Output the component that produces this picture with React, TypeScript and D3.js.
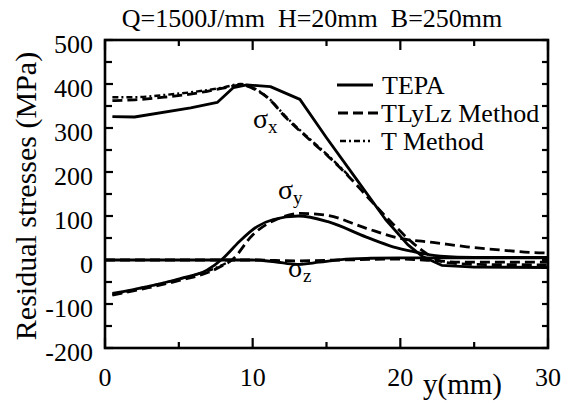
import React from 'react';
import * as d3 from 'd3';

// chart values
const titleText = 'Q=1500J/mm  H=20mm  B=250mm';
const xTicks = [0, 10, 20, 30];
const xMinorTicks = [5, 15, 25];
const yTicks = [500, 400, 300, 200, 100, 0, -100, -200];
const yMinorTicks = [450, 350, 250, 150, 50, -50, -150];

// sigma x
const tepaSxX = [0.5, 2, 5.8, 7.6, 8.7, 9.6, 11.2, 13.2, 15, 17, 19, 20.5, 21.5, 22.8, 25, 30];
const tepaSxY = [326, 325, 346, 358, 392, 398, 394, 365, 278, 185, 92, 35, 8, -12, -16, -17];
const tlSxX = [0.5, 2, 4, 6, 8.2, 9.3, 10, 10.9, 12.3, 13.9, 15.1, 16.5, 18, 19.5, 20.8, 22, 23, 25, 30];
const tlSxY = [362, 364, 370, 378, 392, 398, 390, 372, 322, 272, 236, 190, 135, 82, 40, 10, -5, -10, -11];
const tSxX = [0.5, 2, 4, 6, 8, 9.2, 10, 11, 12.3, 13.9, 15.1, 16.5];
const tSxY = [370, 370, 375, 382, 392, 400, 392, 370, 324, 274, 238, 192];

// sigma y
const tepaSyX = [0.5, 2.8, 5.1, 6.9, 8, 9.1, 10.3, 11.4, 13.1, 15.1, 17.7, 19.5, 20.9, 22.7, 25, 30];
const tepaSyY = [-76, -61, -42, -23, 4, 42, 76, 92, 100, 87, 52, 30, 19, 9, 6, 6];
const tlSyX = [0.5, 2.8, 5.1, 7, 8, 8.6, 10, 11.8, 13.2, 15.1, 17.7, 20, 22.2, 24.5, 26.7, 29, 30];
const tlSyY = [-80, -64, -46, -28, -12, 0, 57, 95, 106, 101, 72, 49, 40, 30, 23, 17, 16];
const tSyX = [0.5, 2, 4, 6, 7.5, 8.5];
const tSyY = [-79, -67, -52, -35, -18, -2];

// sigma z
const tepaSzX = [0, 10, 11.5, 13, 14.5, 16, 18, 20, 22, 25, 30];
const tepaSzY = [0, 0, -4, -10, -5, 1, 4, 5, 5, 5, 5];
const tlSzX = [0, 10, 13, 16, 20, 22.5, 24, 30];
const tlSzY = [0, 0, -2, 0, 2, -2, -5, -5];

const legendLabels = ['TEPA', 'TLyLz Method', 'T Method'];

const font = '"Liberation Serif"';

const zip = (xs: number[], ys: number[]) => xs.map((x, i) => [x, ys[i]] as [number, number]);

export default function App() {
  const W = 578, H = 406;
  const left = 105, right = 548, top = 40, bottom = 348;

  const x = d3.scaleLinear().domain([0, 30]).range([left, right]);
  const y = d3.scaleLinear().domain([-200, 500]).range([bottom, top]);

  const smooth = d3.line<[number, number]>().x(d => x(d[0])).y(d => y(d[1])).curve(d3.curveMonotoneX);
  const straight = d3.line<[number, number]>().x(d => x(d[0])).y(d => y(d[1]));

  const solid = { stroke: '#000', strokeWidth: 2.8, fill: 'none' };
  const dashed = { ...solid, strokeDasharray: '10 5' };
  const dashDot = { ...solid, strokeWidth: 2.4, strokeDasharray: '6 3 2 3' };

  const series = [
    { d: straight(zip(tepaSxX, tepaSxY)), st: solid },
    { d: smooth(zip(tlSxX, tlSxY)), st: dashed },
    { d: smooth(zip(tSxX, tSxY)), st: dashDot },
    { d: smooth(zip(tepaSyX, tepaSyY)), st: solid },
    { d: smooth(zip(tlSyX, tlSyY)), st: dashed },
    { d: smooth(zip(tSyX, tSyY)), st: dashDot },
    { d: smooth(zip(tepaSzX, tepaSzY)), st: solid },
    { d: smooth(zip(tlSzX, tlSzY)), st: dashed },
  ];

  const legendStyles = [solid, dashed, dashDot];
  const legendY = [94, 122, 150];
  const legendX0 = [337, 338, 340];
  const legendX1 = [373, 380, 370];

  const txt = { fontFamily: font, fill: '#000' };

  return (
    <svg width={W} height={H} style={{ position: 'fixed', left: 0, top: 0, background: '#fff' }}>
      <rect x={0} y={0} width={W} height={H} fill="#fff" />

      <text x={312} y={27} fontSize={26} textAnchor="middle" style={{ ...txt, whiteSpace: 'pre' }}>{titleText}</text>

      {/* frame */}
      <rect x={left} y={top} width={right - left} height={bottom - top} fill="none" stroke="#000" strokeWidth={2.6} />

      {/* x ticks, inward on bottom and top */}
      {xTicks.map(t => (
        <g key={'xt' + t}>
          <line x1={x(t)} x2={x(t)} y1={bottom} y2={bottom - 10} stroke="#000" strokeWidth={2.2} />
          <line x1={x(t)} x2={x(t)} y1={top} y2={top + 10} stroke="#000" strokeWidth={2.2} />
          <text x={x(t)} y={386} fontSize={26} textAnchor="middle" style={txt}>{t}</text>
        </g>
      ))}
      {xMinorTicks.map(t => (
        <g key={'xm' + t}>
          <line x1={x(t)} x2={x(t)} y1={bottom} y2={bottom - 6} stroke="#000" strokeWidth={2.2} />
          <line x1={x(t)} x2={x(t)} y1={top} y2={top + 6} stroke="#000" strokeWidth={2.2} />
        </g>
      ))}

      {/* y ticks, inward on left and right */}
      {yTicks.map(t => (
        <g key={'yt' + t}>
          <line x1={left} x2={left + 8} y1={y(t)} y2={y(t)} stroke="#000" strokeWidth={2.2} />
          <line x1={right} x2={right - 6} y1={y(t)} y2={y(t)} stroke="#000" strokeWidth={2.2} />
          <text x={93} y={y(t) + 12.5} fontSize={26} textAnchor="end" style={txt}>{t < 0 ? '-' + Math.abs(t) : t}</text>
        </g>
      ))}
      {yMinorTicks.map(t => (
        <g key={'ym' + t}>
          <line x1={left} x2={left + 7} y1={y(t)} y2={y(t)} stroke="#000" strokeWidth={2.2} />
          <line x1={right} x2={right - 6} y1={y(t)} y2={y(t)} stroke="#000" strokeWidth={2.2} />
        </g>
      ))}

      <text transform={`translate(36, ${(top + bottom) / 2 + 2}) rotate(-90)`} fontSize={30} textAnchor="middle" style={txt}>
        Residual stresses (MPa)
      </text>
      <text x={423} y={394} fontSize={29} style={txt}>y(mm)</text>

      {series.map((s, i) => (
        <path key={i} d={s.d || ''} {...s.st} strokeLinejoin="round" />
      ))}

      {/* curve labels */}
      <text x={253} y={128} fontSize={28} style={txt}>σ<tspan fontSize={19} dy={5}>x</tspan></text>
      <text x={278} y={199} fontSize={28} style={txt}>σ<tspan fontSize={19} dy={5}>y</tspan></text>
      <text x={288} y={277} fontSize={28} style={txt}>σ<tspan fontSize={19} dy={5}>z</tspan></text>

      {/* legend */}
      {legendLabels.map((l, i) => (
        <g key={l}>
          <line x1={legendX0[i]} x2={legendX1[i]} y1={legendY[i] - 9} y2={legendY[i] - 9} {...legendStyles[i]} />
          <text x={i === 0 ? 382 : 381} y={legendY[i]} fontSize={26} style={txt}>{l}</text>
        </g>
      ))}
    </svg>
  );
}
